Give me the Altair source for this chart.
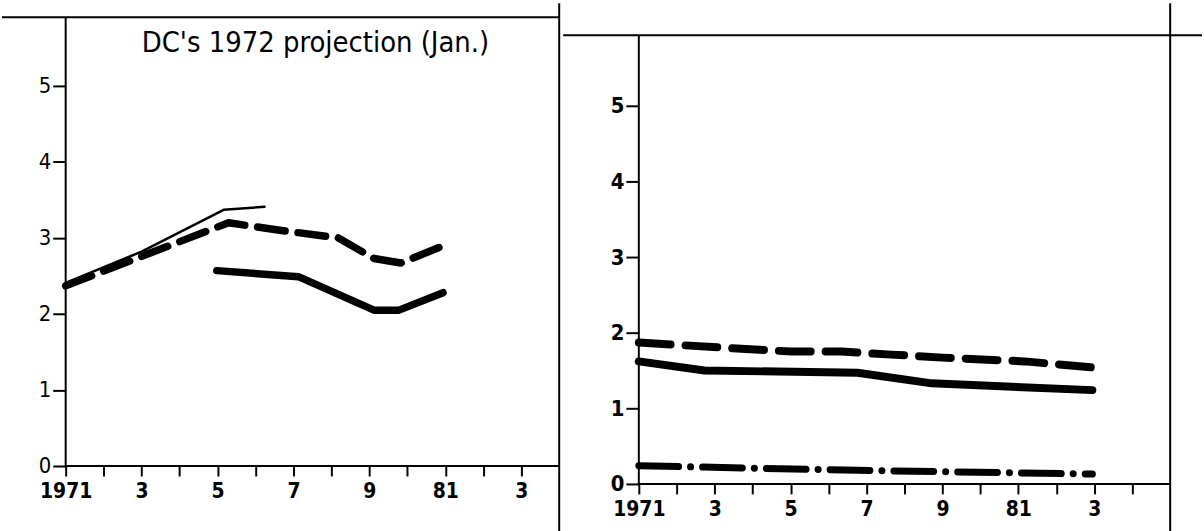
import altair as alt
import pandas as pd

# ---------------- data ----------------
# Left panel: DC's 1972 projection (Jan.)
L_thin_year = [1971, 1973.0, 1975.16, 1976.24]
L_thin_val = [2.41, 2.82, 3.37, 3.41]
L_dash_year = [1971, 1975.29, 1976.5, 1978.18, 1979.12, 1979.83, 1981.06]
L_dash_val = [2.37, 3.20, 3.11, 3.00, 2.73, 2.67, 2.92]
L_solid_year = [1974.98, 1977.13, 1979.12, 1979.78, 1980.94]
L_solid_val = [2.57, 2.49, 2.05, 2.05, 2.28]

# Right panel
R_dash_year = [1971, 1973.26, 1975.02, 1976.34, 1977.66, 1979.0, 1981.17, 1982.95]
R_dash_val = [1.87, 1.80, 1.75, 1.75, 1.71, 1.67, 1.62, 1.54]
R_solid_year = [1971, 1972.73, 1976.76, 1978.72, 1982.95]
R_solid_val = [1.62, 1.50, 1.47, 1.33, 1.24]
R_dd_year = [1971, 1976.76, 1982.95]
R_dd_val = [0.24, 0.18, 0.13]

Y_TICKS = [0, 1, 2, 3, 4, 5]
TITLE_LEFT = "DC's 1972 projection (Jan.)"

FONT = "DejaVu Sans Condensed, DejaVu Sans, sans-serif"
LABEL_EXPR = ("datum.value == 1971 ? '1971' : datum.value == 1981 ? '81' : "
              "(datum.value % 2 == 1 ? '' + (datum.value % 10) : '')")

one = pd.DataFrame({"a": [0]})


def df(years, vals):
    return pd.DataFrame({"year": years, "value": vals})


def enc(xdom, ydom, xticks, ybold):
    x = alt.X("year:Q",
              scale=alt.Scale(domain=xdom, nice=False, zero=False),
              axis=alt.Axis(values=xticks, labelExpr=LABEL_EXPR, title=None,
                            grid=False, domain=False, tickSize=10, tickWidth=2,
                            tickColor="black", labelPadding=5, labelFont=FONT,
                            labelFontSize=21, labelFontWeight="bold",
                            labelColor="black", labelFlush=False))
    y = alt.Y("value:Q",
              scale=alt.Scale(domain=ydom, nice=False, zero=True),
              axis=alt.Axis(values=Y_TICKS, format="d", title=None, grid=False,
                            domain=False, tickSize=13, tickWidth=2,
                            tickColor="black", labelPadding=2, labelFont=FONT,
                            labelFontSize=22,
                            labelFontWeight="bold" if ybold else "normal",
                            labelColor="black"))
    return x, y


def line(data, x, y, width, dash=None):
    kw = dict(color="black", strokeWidth=width, strokeCap="round",
              strokeJoin="round")
    if dash:
        kw["strokeDash"] = dash
    return alt.Chart(data).mark_line(**kw).encode(x=x, y=y)


def hrule(x1, x2, y):
    return alt.Chart(one).mark_rule(color="black", strokeWidth=2).encode(
        x=alt.value(x1), x2=alt.value(x2), y=alt.value(y))


def vrule(x, y1, y2):
    return alt.Chart(one).mark_rule(color="black", strokeWidth=2).encode(
        x=alt.value(x), y=alt.value(y1), y2=alt.value(y2))


# ---------------- left panel ----------------
W1, H1 = 496, 433
xl, yl = enc([1971, 1984], [0, 5.667], list(range(1971, 1984)), False)
left = alt.layer(
    hrule(-64, W1, -18),          # top frame line
    vrule(0, -18, H1),            # y axis line
    hrule(0, W1, H1),             # x axis line
    vrule(W1, -32, 499),          # divider
    line(df(L_thin_year, L_thin_val), xl, yl, 2.5),
    line(df(L_dash_year, L_dash_val), xl, yl, 7.5, [28, 13]),
    line(df(L_solid_year, L_solid_val), xl, yl, 7.5),
    alt.Chart(one).mark_text(text=TITLE_LEFT, font=FONT, fontSize=29,
                             color="black").encode(
        x=alt.value(251), y=alt.value(8)),
).properties(width=W1, height=H1)

# ---------------- right panel ----------------
W2, H2 = 534, 451
xr, yr = enc([1971, 1985], [0, 5.934], list(range(1971, 1985)), True)
right = alt.layer(
    hrule(-76, W2 + 32, 0),       # top frame line
    vrule(0, 0, H2),              # y axis line
    hrule(0, W2, H2),             # x axis line
    vrule(W2, -32, 499),          # right frame line
    line(df(R_dash_year, R_dash_val), xr, yr, 8, [32, 15]),
    line(df(R_solid_year, R_solid_val), xr, yr, 8),
    line(df(R_dd_year, R_dd_val), xr, yr, 7, [40, 12, 0.1, 12]),
).properties(width=W2, height=H2)

chart = alt.hconcat(
    left, right, spacing=0,
    padding={"left": 0, "top": 0, "right": 0, "bottom": 0},
).configure(background="white").configure_view(stroke="transparent")

chart.save("out.html", embed_options={"renderer": "svg", "actions": False})
